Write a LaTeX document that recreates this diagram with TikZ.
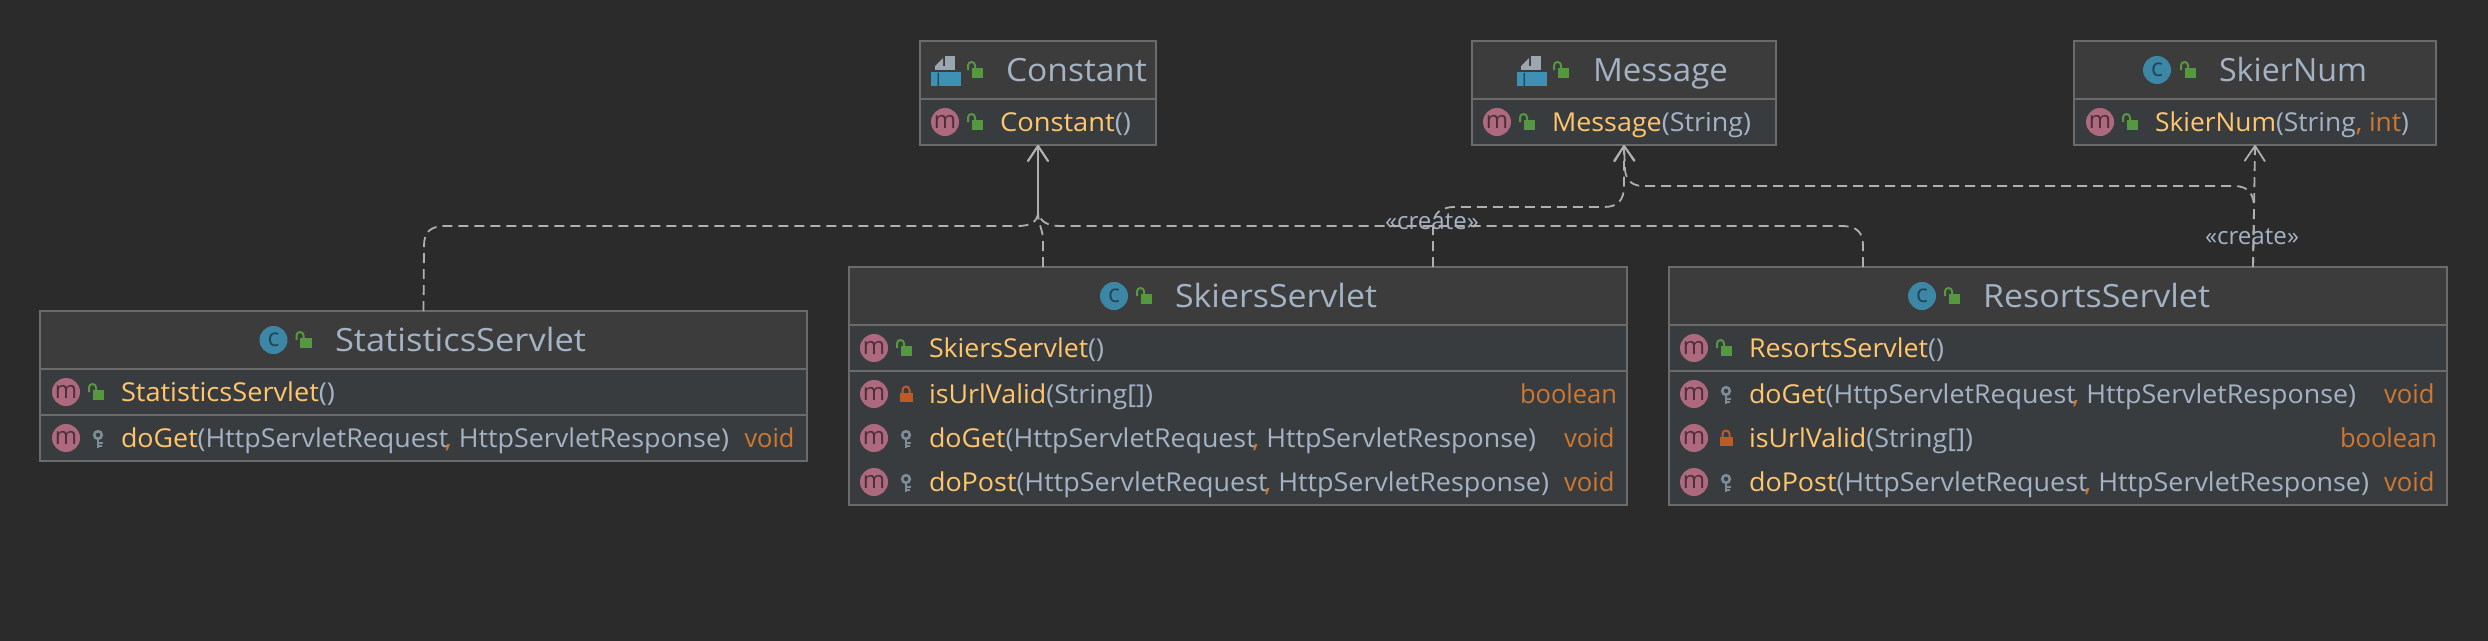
\documentclass[tikz,border=0pt]{standalone}
\usepackage{fontspec}
\usepackage{graphicx}
\setmainfont{Open Sans}
\usetikzlibrary{arrows.meta,calc}
\definecolor{bgc}{HTML}{2B2B2B}
\definecolor{headc}{HTML}{3C3C3C}
\definecolor{memc}{HTML}{393C3F}
\definecolor{edgec}{HTML}{6B6B6B}
\definecolor{linec}{HTML}{AFAFAF}
\definecolor{txtc}{HTML}{A4B3C4}
\definecolor{yelc}{HTML}{FFC66D}
\definecolor{orac}{HTML}{CC7832}
\definecolor{mfill}{HTML}{AD6A7E}
\definecolor{mink}{HTML}{4E2E39}
\definecolor{cfill}{HTML}{3C87A6}
\definecolor{cink}{HTML}{20475A}
\definecolor{lockg}{HTML}{56983F}
\definecolor{lockr}{HTML}{BE5A28}
\definecolor{keyc}{HTML}{7D8C99}
\definecolor{pagec}{HTML}{9AA7B0}
\definecolor{jfill}{HTML}{3E90B4}
\newsavebox\fitbox
\newcounter{nc}
\newcommand\fitw[2]{\sbox\fitbox{#2}\pgfmathsetmacro\rr{(#1)/\the\wd\fitbox}\scalebox{\rr}[1]{\usebox\fitbox}}
\newcommand\yl[1]{\textcolor{yelc}{#1}}
\newcommand\gr[1]{\textcolor{txtc}{#1}}
\newcommand\og[1]{\textcolor{orac}{#1}}
\newcommand\cm{\textcolor{orac}{\kern-3pt,}\kern7pt}
\newcommand\titlefont{\fontsize{32}{36}\selectfont}
\newcommand\rowfont{\fontsize{26}{30}\selectfont}
% text: x-left, x-right, baseline y, font, content
\newcommand\lab[5]{\stepcounter{nc}\node[textnode,font=#4] (txt\arabic{nc}) at (#1,#3) {\fitw{#2-#1}{#5}};}
\newcommand\ttl[4]{\lab{#1}{#2}{#3+11.5}{\titlefont}{\gr{#4}}}
\newcommand\rw[4]{\lab{#1}{#2}{#3+9.5}{\rowfont}{#4}}
\newcommand\mcirc[2]{\stepcounter{nc}\node[badge,fill=mfill,text=mink,font=\fontsize{24}{24}\selectfont] (mb\arabic{nc}) at (#1,#2) {\raisebox{-1pt}{m}};}
\newcommand\ccirc[2]{\stepcounter{nc}\node[badge,fill=cfill,text=cink,font=\fontsize{25}{25}\selectfont] (cb\arabic{nc}) at (#1,#2) {\raisebox{-1pt}{c}};}
\newcommand\lockopen[2]{\begin{scope}[shift={(#1,#2)}]
 \fill[lockg] (4.5,-2) rectangle (16,8);
 \draw[lockg,line width=2] (1,0) -- (1,-4.5) arc[start angle=180,end angle=360,radius=3.5] -- (8,-2);
\end{scope}}
\newcommand\lockred[2]{\begin{scope}[shift={(#1,#2)}]
 \fill[lockr] (-6.5,-1) rectangle (6.5,8);
 \draw[lockr,line width=2] (-3.5,-1) -- (-3.5,-4) arc[start angle=180,end angle=360,radius=3.5] -- (3.5,-1);
\end{scope}}
\newcommand\keyicon[2]{\begin{scope}[shift={(#1,#2)}]
 \draw[keyc,line width=2.6] (0,-3) circle[radius=3.8];
 \fill[keyc] (-1.3,1) rectangle (1.3,10);
 \fill[keyc] (1.3,3.5) rectangle (4.5,5.5);
 \fill[keyc] (1.3,7) rectangle (3.5,9);
\end{scope}}
\newcommand\jfile[1]{\begin{scope}[shift={(#1,0)}]
 \fill[pagec] (14,56) rectangle (24,70);
 \fill[pagec] (4,70) rectangle (14,66);
 \fill[pagec] (4,66) -- (12,58) -- (12,66) -- cycle;
 \fill[jfill] (0,72) rectangle (30,86);
 \stepcounter{nc}\node[textnode,text=cink,font=\fontsize{17}{17}\selectfont] (j\arabic{nc}) at (5,85) {J};
\end{scope}}
% name, x1,y1,x2,y2, yhead, ysep (0 = none)
\newcommand\classbox[7]{%
 \pgfmathsetmacro\bw{#4-#2}\pgfmathsetmacro\bh{#5-#3}%
 \node[boxnode,minimum width=\bw pt,minimum height=\bh pt] (#1) at (#2,#3) {};
 \fill[memc] (#2+1,#6) rectangle (#4-1,#5-1);
 \draw[sepline] (#2+1,#6) -- (#4-1,#6);
 \ifnum#7>0 \draw[sepline] (#2+1,#7) -- (#4-1,#7);\fi
}
\tikzset{
 x=1pt,y=-1pt,
 textnode/.style={anchor=base west,inner sep=0pt,outer sep=0pt},
 badge/.style={circle,inner sep=0pt,minimum size=28pt},
 boxnode/.style={draw=edgec,fill=headc,line width=2pt,anchor=north west,inner sep=0pt,outer sep=0pt},
 sepline/.style={draw=edgec,line width=2pt},
 dep/.style={draw=linec,line width=1.8pt,dash pattern=on 10pt off 6pt},
 deparrow/.style={dep,-{Straight Barb[length=15pt,width=20pt,line width=1.8pt,round]}},
 stereo/.style={anchor=base,inner sep=0pt,text=txtc,font=\fontsize{24}{28}\selectfont},
}
\begin{document}
\begin{tikzpicture}
\path[use as bounding box] (0,0) rectangle (2488,640);
\fill[bgc] (-10,-10) rectangle (2498,650);

% --- Constant
\classbox{Constant}{920}{41}{1156}{145}{99}{0}
\jfile{931}
\lockopen{967}{70}
\ttl{1006}{1147}{70}{Constant}
\mcirc{945}{122}\lockopen{967}{122}
\rw{1000}{1131}{122}{\yl{Constant}\gr{()}}

% --- Message
\classbox{Message}{1472}{41}{1776}{145}{99}{0}
\jfile{1517}
\lockopen{1553}{70}
\ttl{1593}{1728}{70}{Message}
\mcirc{1497}{122}\lockopen{1519}{122}
\rw{1552}{1751}{122}{\yl{Message}\gr{(String)}}

% --- SkierNum
\classbox{SkierNum}{2074}{41}{2436}{145}{99}{0}
\ccirc{2157}{70}\lockopen{2180}{70}
\ttl{2219}{2367}{70}{SkierNum}
\mcirc{2100}{122}\lockopen{2122}{122}
\rw{2155}{2409}{122}{\yl{SkierNum}\gr{(String}\og{, int}\gr{)}}

% --- StatisticsServlet
\classbox{Statistics}{40}{311}{807}{461}{369}{415}
\ccirc{273.5}{340}\lockopen{295.5}{340}
\ttl{335}{586}{340}{StatisticsServlet}
\mcirc{66}{392}\lockopen{88}{392}
\rw{121}{335}{392}{\yl{StatisticsServlet}\gr{()}}
\mcirc{66}{438}\keyicon{98}{438}
\rw{121}{729}{438}{\yl{doGet}\gr{(HttpServletRequest}\cm\gr{HttpServletResponse)}}
\rw{744.5}{794.5}{438}{\og{void}}

% --- SkiersServlet
\classbox{Skiers}{849}{267}{1627}{505}{325}{371}
\ccirc{1114}{296}\lockopen{1136}{296}
\ttl{1175}{1377}{296}{SkiersServlet}
\mcirc{874}{348}\lockopen{896}{348}
\rw{929}{1104}{348}{\yl{SkiersServlet}\gr{()}}
\mcirc{874}{394}\lockred{906}{394}
\rw{929}{1153}{394}{\yl{isUrlValid}\gr{(String[])}}
\rw{1520}{1617}{394}{\og{boolean}}
\mcirc{874}{438}\keyicon{906}{438}
\rw{929}{1536}{438}{\yl{doGet}\gr{(HttpServletRequest}\cm\gr{HttpServletResponse)}}
\rw{1564}{1614.5}{438}{\og{void}}
\mcirc{874}{482}\keyicon{906}{482}
\rw{929}{1549}{482}{\yl{doPost}\gr{(HttpServletRequest}\cm\gr{HttpServletResponse)}}
\rw{1564}{1614.5}{482}{\og{void}}

% --- ResortsServlet
\classbox{Resorts}{1669}{267}{2447}{505}{325}{371}
\ccirc{1922}{296}\lockopen{1944}{296}
\ttl{1983}{2210}{296}{ResortsServlet}
\mcirc{1694}{348}\lockopen{1716}{348}
\rw{1749}{1944}{348}{\yl{ResortsServlet}\gr{()}}
\mcirc{1694}{394}\keyicon{1726}{394}
\rw{1749}{2356}{394}{\yl{doGet}\gr{(HttpServletRequest}\cm\gr{HttpServletResponse)}}
\rw{2384}{2434.5}{394}{\og{void}}
\mcirc{1694}{438}\lockred{1726}{438}
\rw{1749}{1973}{438}{\yl{isUrlValid}\gr{(String[])}}
\rw{2340}{2437}{438}{\og{boolean}}
\mcirc{1694}{482}\keyicon{1726}{482}
\rw{1749}{2369}{482}{\yl{doPost}\gr{(HttpServletRequest}\cm\gr{HttpServletResponse)}}
\rw{2384}{2434.5}{482}{\og{void}}

% --- connectors
\draw[deparrow] (Statistics.north) -- (424,246) .. controls (424,232) and (430,226) .. (446,226) -- (1018,226) .. controls (1030,226) and (1038,222) .. (1038,212) -- (Constant.south);
\draw[deparrow] ([xshift=-195pt]Skiers.north) -- (1043,240) .. controls (1043,230) and (1038,224) .. (1038,212) -- (Constant.south);
\draw[deparrow] ([xshift=-195pt]Resorts.north) -- (1863,246) .. controls (1863,232) and (1857,226) .. (1841,226) -- (1060,226) .. controls (1048,226) and (1040,222) .. (1038,212) -- (Constant.south);
\draw[deparrow] ([xshift=195pt]Skiers.north) -- (1433,228) .. controls (1433,214) and (1439,207) .. (1455,207) -- (1604,207) .. controls (1618,207) and (1624,200) .. (1624,186) -- (Message.south);
\draw[deparrow] ([xshift=195pt]Resorts.north) -- (2254,208) .. controls (2254,196) and (2250,186) .. (2234,186) -- (1643,186) .. controls (1632,186) and (1626,180) .. (1625,170) -- (Message.south);
\draw[deparrow] ([xshift=195pt]Resorts.north) -- (SkierNum.south);

% --- stereotypes
\node[stereo] (create1) at (1432,229) {\fitw{94}{«create»}};
\node[stereo] (create2) at (2252,244) {\fitw{94}{«create»}};
\end{tikzpicture}
\end{document}
